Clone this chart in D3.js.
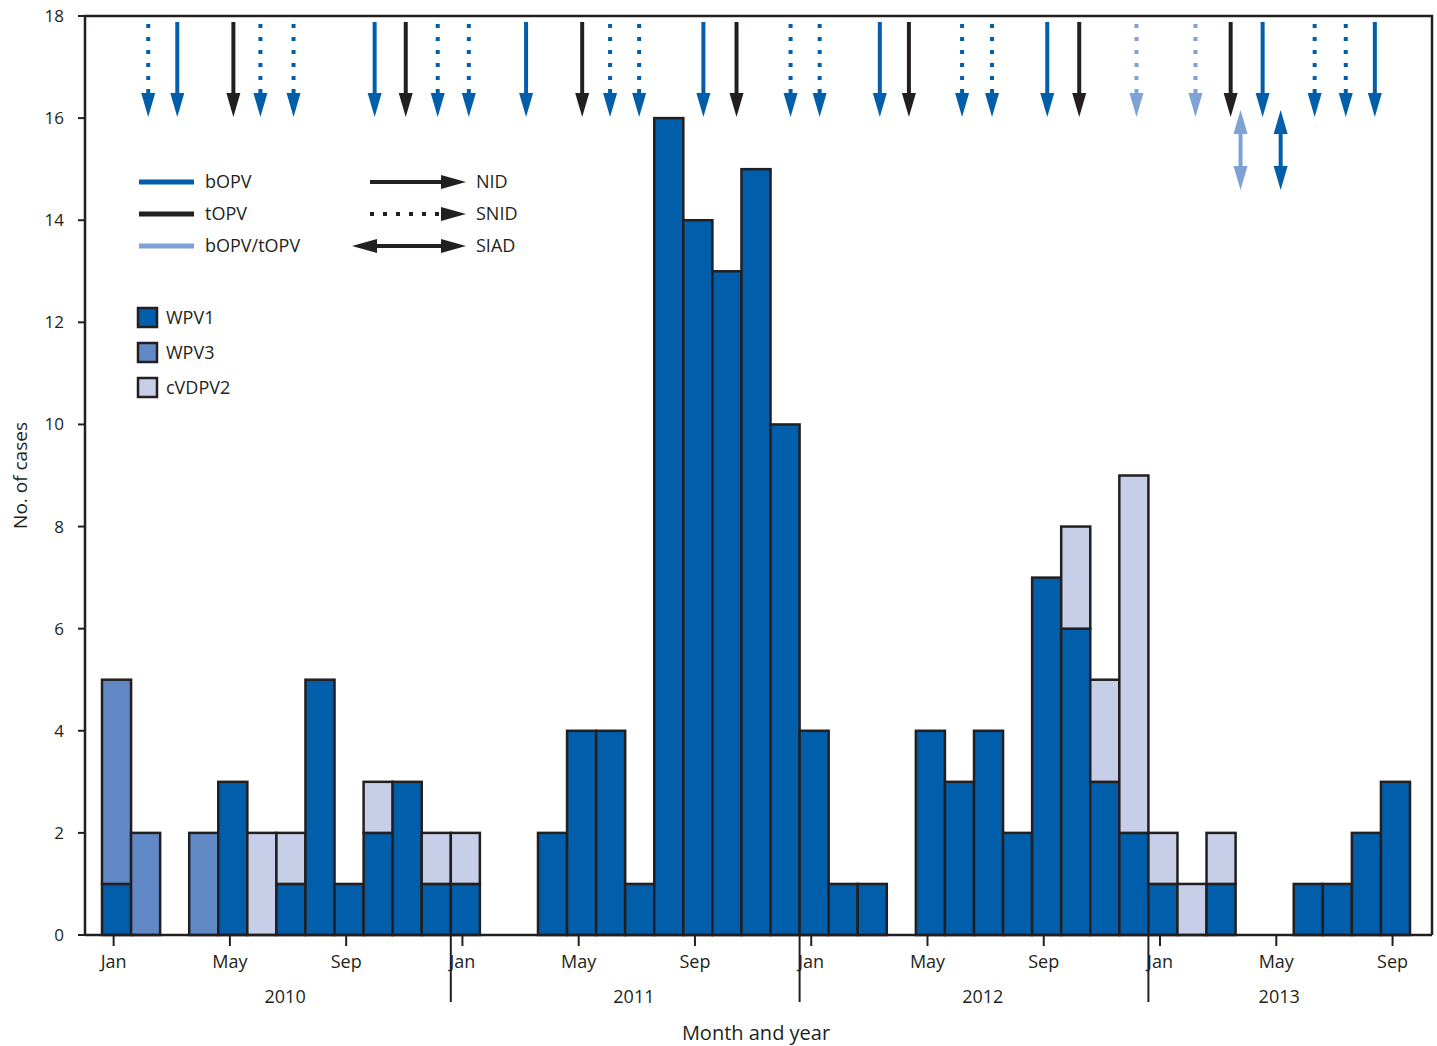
<!DOCTYPE html>
<html><head><meta charset="utf-8">
<script src="https://cdn.jsdelivr.net/npm/d3@7"></script>
<style>body{margin:0;background:#fff}text{font-family:"Open Sans","Liberation Sans",sans-serif;fill:#231f20}</style>
</head><body><div id="app"></div>
<script>
const WIDTH = 1437, HEIGHT = 1046
const BLUE = '#005eaa', MID = '#6189c6', PALE = '#c6cfe7', LIGHT = '#7fa2d6', INK = '#231f20'
const LEFT = 85, RIGHT = 1432

// month index 0 = Jan 2010
const wpv1  = [1,0,0,0,3,0,1,5,1,2,3,1, 1,0,0,2,4,4,1,16,14,13,15,10, 4,1,1,0,4,3,4,2,7,6,3,2, 1,0,1,0,0,1,1,2,3]
const wpv3  = [4,2,0,2,0,0,0,0,0,0,0,0, 0,0,0,0,0,0,0,0,0,0,0,0, 0,0,0,0,0,0,0,0,0,0,0,0, 0,0,0,0,0,0,0,0,0]
const cvdpv2= [0,0,0,0,0,2,1,0,0,1,0,1, 1,0,0,0,0,0,0,0,0,0,0,0, 0,0,0,0,0,0,0,0,0,2,2,7, 1,1,1,0,0,0,0,0,0]
const years = ['2010','2011','2012','2013']
const monthTicks = ['Jan','May','Sep']
const yTicks = [0,2,4,6,8,10,12,14,16,18]

// campaigns: fractional month index, vaccine, type
const campaigns = [
  [1.59,'b','snid'],[2.59,'b','nid'],[4.52,'t','nid'],[5.45,'b','snid'],[6.59,'b','snid'],
  [9.38,'b','nid'],[10.45,'t','nid'],[11.55,'b','snid'],[12.62,'b','snid'],[14.59,'b','nid'],
  [16.52,'t','nid'],[17.48,'b','snid'],[18.48,'b','snid'],[20.69,'b','nid'],[21.83,'t','nid'],
  [23.69,'b','snid'],[24.69,'b','snid'],[26.76,'b','nid'],[27.76,'t','nid'],[29.59,'b','snid'],
  [30.62,'b','snid'],[32.52,'b','nid'],[33.62,'t','nid'],[35.59,'bt','snid'],[37.62,'bt','snid'],
  [38.83,'t','nid'],[39.93,'b','nid'],[41.72,'b','snid'],[42.79,'b','snid'],[43.79,'b','nid'],
  [39.17,'bt','siad'],[40.55,'b','siad']
]
const vacColor = { b: BLUE, t: INK, bt: LIGHT }

const x = d3.scaleLinear().domain([0, 45]).range([102, 1410])
const y = d3.scaleLinear().domain([0, 18]).range([935, 16])

const svg = d3.select('#app').append('svg').attr('width', WIDTH).attr('height', HEIGHT)

function head(g, cx, tipY, dir, color, w = 14, h = 24) {
  g.append('path').attr('fill', color)
    .attr('d', `M${cx - w/2},${tipY - dir*h} L${cx + w/2},${tipY - dir*h} L${cx},${tipY}Z`)
}

// bars
const stack = wpv1.map((v, i) => [
  { i, y0: 0, y1: v, c: BLUE },
  { i, y0: v, y1: v + wpv3[i], c: MID },
  { i, y0: v + wpv3[i], y1: v + wpv3[i] + cvdpv2[i], c: PALE }
]).flat().filter(d => d.y1 > d.y0)

svg.append('g').selectAll('rect').data(stack).enter().append('rect')
  .attr('x', d => x(d.i)).attr('width', x(1) - x(0))
  .attr('y', d => y(d.y1)).attr('height', d => y(d.y0) - y(d.y1))
  .attr('fill', d => d.c).attr('stroke', INK).attr('stroke-width', 2.5)

// frame
svg.append('path').attr('fill', 'none').attr('stroke', INK).attr('stroke-width', 2.5)
  .attr('d', `M${LEFT},${y(0)} V${y(18)} H${RIGHT} V${y(0)}`)
svg.append('line').attr('x1', LEFT).attr('x2', RIGHT).attr('y1', y(0)).attr('y2', y(0))
  .attr('stroke', INK).attr('stroke-width', 2.5)

// y axis
const ya = svg.append('g')
ya.selectAll('line').data(yTicks).enter().append('line')
  .attr('x1', LEFT - 7).attr('x2', LEFT).attr('y1', d => y(d)).attr('y2', d => y(d)).attr('stroke', INK).attr('stroke-width', 2)
ya.selectAll('text').data(yTicks).enter().append('text')
  .attr('x', 64).attr('y', d => y(d) + 6).attr('text-anchor', 'end').attr('font-size', 17).text(d => d)
svg.append('text').attr('transform', `translate(27,${y(9)}) rotate(-90)`).attr('text-anchor', 'middle')
  .attr('font-size', 19).text('No. of cases')

// x axis
const xa = svg.append('g')
const ticks = d3.range(45).filter(i => i % 4 === 0)
xa.selectAll('line.t').data(ticks).enter().append('line')
  .attr('x1', d => x(d + 0.4)).attr('x2', d => x(d + 0.4)).attr('y1', y(0)).attr('y2', y(0) + 11)
  .attr('stroke', INK).attr('stroke-width', 2)
xa.selectAll('text.m').data(ticks).enter().append('text')
  .attr('x', d => x(d + 0.4)).attr('y', 968).attr('text-anchor', 'middle').attr('font-size', 18)
  .text(d => monthTicks[(d % 12) / 4])
xa.selectAll('line.y').data([12, 24, 36]).enter().append('line')
  .attr('x1', d => x(d)).attr('x2', d => x(d)).attr('y1', y(0)).attr('y2', 1002)
  .attr('stroke', INK).attr('stroke-width', 2)
xa.selectAll('text.y').data(years).enter().append('text')
  .attr('x', (d, i) => i < 3 ? x(i * 12 + 6.3) : x(36 + 4.5)).attr('y', 1003)
  .attr('text-anchor', 'middle').attr('font-size', 18).text(d => d)
svg.append('text').attr('x', 756).attr('y', 1040).attr('text-anchor', 'middle').attr('font-size', 20).text('Month and year')

// campaign arrows
const ag = svg.append('g')
campaigns.forEach(([m, v, t]) => {
  const cx = x(m), c = vacColor[v]
  if (t === 'siad') {
    ag.append('line').attr('x1', cx).attr('x2', cx).attr('y1', 128).attr('y2', 170).attr('stroke', c).attr('stroke-width', 4)
    head(ag, cx, 110, -1, c); head(ag, cx, 190, 1, c)
    return
  }
  ag.append('line').attr('x1', cx).attr('x2', cx).attr('y1', t === 'snid' ? 24 : 22).attr('y2', 95)
    .attr('stroke', c).attr('stroke-width', 4).attr('stroke-dasharray', t === 'snid' ? '4,9' : null)
  head(ag, cx, 117, 1, c)
})

// legend
const lg = svg.append('g')
const vacLeg = [['bOPV', BLUE], ['tOPV', INK], ['bOPV/tOPV', LIGHT]]
vacLeg.forEach(([l, c], i) => {
  const yy = 182 + i * 32
  lg.append('line').attr('x1', 139).attr('x2', 194).attr('y1', yy).attr('y2', yy).attr('stroke', c).attr('stroke-width', 5)
  lg.append('text').attr('x', 205).attr('y', yy + 6).attr('font-size', 18).text(l)
})
const typeLeg = [['NID', null], ['SNID', '4,9'], ['SIAD', null]]
typeLeg.forEach(([l, dash], i) => {
  const yy = 182 + i * 32
  lg.append('line').attr('x1', 370).attr('x2', 443).attr('y1', yy).attr('y2', yy)
    .attr('stroke', INK).attr('stroke-width', 4).attr('stroke-dasharray', dash)
  lg.append('path').attr('fill', INK).attr('d', `M441,${yy - 7} L466,${yy} L441,${yy + 7}Z`)
  if (i === 2) lg.append('path').attr('fill', INK).attr('d', `M377,${yy - 7} L352,${yy} L377,${yy + 7}Z`)
  lg.append('text').attr('x', 476).attr('y', yy + 6).attr('font-size', 18).text(l)
})
const caseLeg = [['WPV1', BLUE], ['WPV3', MID], ['cVDPV2', PALE]]
caseLeg.forEach(([l, c], i) => {
  const yy = 308 + i * 35
  lg.append('rect').attr('x', 138).attr('y', yy).attr('width', 19).attr('height', 19)
    .attr('fill', c).attr('stroke', INK).attr('stroke-width', 2.5)
  lg.append('text').attr('x', 166).attr('y', yy + 16).attr('font-size', 18).text(l)
})
</script></body></html>
